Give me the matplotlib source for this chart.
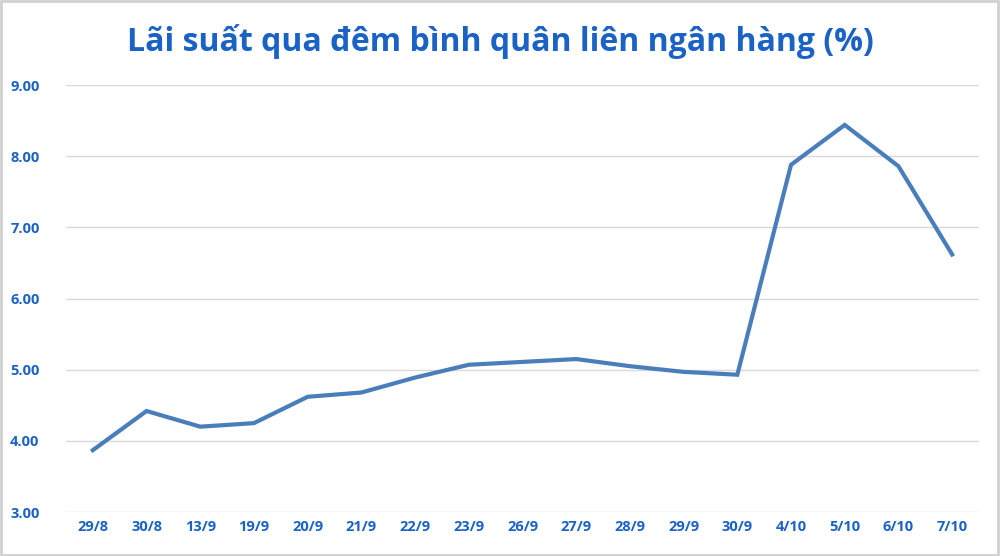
import matplotlib.pyplot as plt
from matplotlib.patches import Rectangle

# Dữ liệu lãi suất qua đêm
dates = ['29/8', '30/8', '13/9', '19/9', '20/9', '21/9', '22/9', '23/9', '26/9',
         '27/9', '28/9', '29/9', '30/9', '4/10', '5/10', '6/10', '7/10']
rates = [3.87, 4.42, 4.20, 4.25, 4.62, 4.68, 4.89, 5.07, 5.11,
         5.15, 5.05, 4.97, 4.93, 7.88, 8.44, 7.86, 6.62]
y_ticks = [3, 4, 5, 6, 7, 8, 9]

text_color = '#1A62C6'
line_color = '#4A7EBB'

plt.rcParams['font.family'] = ['Open Sans', 'DejaVu Sans']

fig = plt.figure(figsize=(10, 5.56), dpi=100)
ax = fig.add_axes([0.066, 0.079, 0.913, 0.768])

x = list(range(len(dates)))
ax.plot(x, rates, color=line_color, linewidth=3, solid_joinstyle='miter')

ax.set_xlim(-0.5, len(dates) - 0.5)
ax.set_ylim(3, 9)
ax.set_yticks(y_ticks)
ax.set_yticklabels([f'{v:.2f}' for v in y_ticks])
ax.set_xticks(x)
ax.set_xticklabels(dates)

for lbl in ax.get_xticklabels() + ax.get_yticklabels():
    lbl.set_color(text_color)
    lbl.set_fontweight('bold')
    lbl.set_fontsize(10.5)

ax.tick_params(axis='both', length=0)
ax.tick_params(axis='y', pad=19)
ax.tick_params(axis='x', pad=6)
ax.grid(axis='y', color='#D9D9D9', linewidth=1)
ax.set_axisbelow(True)
for s in ax.spines.values():
    s.set_visible(False)

fig.text(0.5, 0.926, 'Lãi suất qua đêm bình quân liên ngân hàng (%)',
         ha='center', va='center', fontsize=23, fontweight='bold', color=text_color)

# khung viền
fig.patches.append(Rectangle((0.001, 0.002), 0.997, 0.996, transform=fig.transFigure,
                             fill=False, edgecolor='#D0D0D0', linewidth=2))

fig.savefig('out.png', dpi=100)
